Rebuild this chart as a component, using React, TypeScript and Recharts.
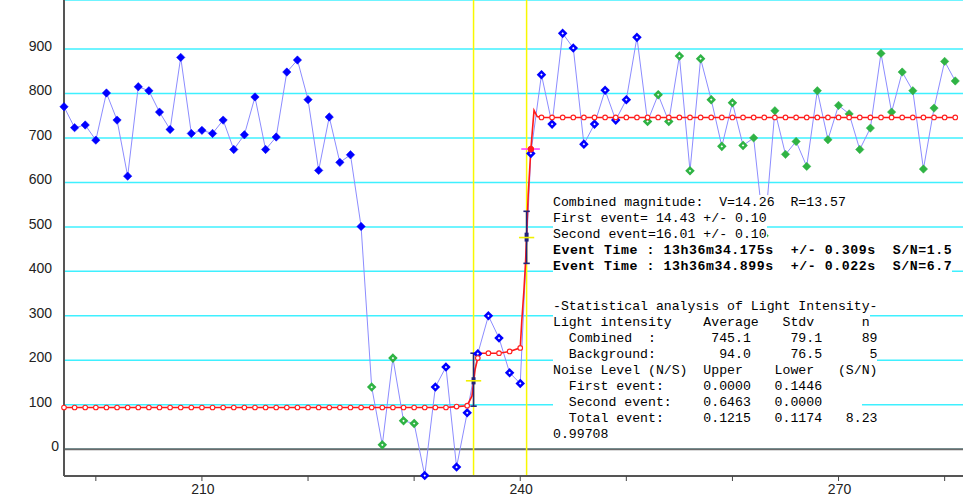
import { LineChart, Line, XAxis, YAxis, CartesianGrid, ReferenceLine, ReferenceDot } from "recharts";

// measured light intensity, one sample per time unit
const times = [
  197, 198, 199, 200, 201, 202, 203, 204, 205, 206, 207, 208, 209, 210, 211, 212, 213, 214, 215, 216,
  217, 218, 219, 220, 221, 222, 223, 224, 225, 226, 227, 228, 229, 230, 231, 232, 233, 234, 235, 236,
  237, 238, 239, 240, 241, 242, 243, 244, 245, 246, 247, 248, 249, 250, 251, 252, 253, 254, 255, 256,
  257, 258, 259, 260, 261, 262, 263, 264, 265, 266, 267, 268, 269, 270, 271, 272, 273, 274, 275, 276,
  277, 278, 279, 280, 281,
];
const intensity = [
  770, 723, 729, 695, 801, 740, 614, 815, 806, 758, 719, 881, 710, 717, 710, 740, 674, 707, 792, 674,
  702, 848, 875, 786, 627, 747, 645, 662, 501, 140, 10, 205, 64, 58, -59, 140, 185, -40, 82, 215,
  300, 250, 172, 148, 665, 842, 731, 935, 902, 686, 731, 807, 740, 786, 926, 737, 797, 737, 884, 626,
  878, 786, 681, 779, 683, 700, 480, 761, 663, 692, 636, 806, 696, 773, 754, 674, 722, 890, 758, 848,
  806, 630, 767, 872, 828,
];
// F = blue filled, o = blue open, g = green open, G = green filled
const kinds = [
  "F", "F", "F", "F", "F", "F", "F", "F", "F", "F", "F", "F", "F", "F", "F", "F", "F", "F", "F", "F",
  "F", "F", "F", "F", "F", "F", "F", "F", "F", "g", "g", "g", "g", "g", "o", "o", "o", "o", "o", "o",
  "o", "o", "o", "o", "o", "o", "o", "o", "o", "o", "o", "o", "o", "o", "o", "g", "g", "g", "g", "g",
  "g", "g", "g", "g", "g", "G", "G", "G", "G", "G", "G", "G", "G", "G", "G", "G", "G", "G", "G", "G",
  "G", "G", "G", "G", "G",
];

// fitted step model (red)
const fitTimes = [
  197, 198, 199, 200, 201, 202, 203, 204, 205, 206, 207, 208, 209, 210, 211, 212, 213, 214, 215, 216,
  217, 218, 219, 220, 221, 222, 223, 224, 225, 226, 227, 228, 229, 230, 231, 232, 233, 234, 235,
  235.45, 235.6, 235.75, 236, 236.15, 237, 238, 239, 240, 240.15, 240.35, 240.5, 240.75, 241, 241.3, 241.6,
  242, 243, 244, 245, 246, 247, 248, 249, 250, 251, 252, 253, 254, 255, 256, 257, 258, 259, 260, 261,
  262, 263, 264, 265, 266, 267, 268, 269, 270, 271, 272, 273, 274, 275, 276, 277, 278, 279, 280, 281,
];
const fitValues = [
  94, 94, 94, 94, 94, 94, 94, 94, 94, 94, 94, 94, 94, 94, 94, 94, 94, 94, 94, 94,
  94, 94, 94, 94, 94, 94, 94, 94, 94, 94, 94, 94, 94, 94, 94, 94, 94, 96, 98,
  120, 150, 180, 205, 216, 216, 216, 220, 228, 290, 358, 420, 572, 674, 762, 748,
  746, 746, 746, 746, 746, 746, 746, 746, 746, 746, 746, 746, 746, 746, 746, 746, 746, 746, 746, 746,
  746, 746, 746, 746, 746, 746, 746, 746, 746, 746, 746, 746, 746, 746, 746, 746, 746, 746, 746, 746,
];

// event times with their uncertainty bars
const eventTimes = [235.6, 240.6];
const eventLow = [97, 418];
const eventHigh = [216, 535];
const eventCoreLow = [146, 467];
const eventCoreHigh = [162, 487];
const eventMid = [154, 476];
const magnitudeMark = { t: 241, v: 675, from: 240.1, to: 241.85 };

const xTicks = [200, 210, 220, 230, 240, 250, 260, 270, 280];
const xLabels = [210, 240, 270];
const yTicks = [0, 100, 200, 300, 400, 500, 600, 700, 800, 900];

const textLines = [
  "Combined magnitude:  V=14.26  R=13.57",
  "First event= 14.43 +/- 0.10",
  "Second event=16.01 +/- 0.10",
];
const eventLines = [
  "Event Time : 13h36m34.175s  +/- 0.309s  S/N=1.5",
  "Event Time : 13h36m34.899s  +/- 0.022s  S/N=6.7",
];
const statLines = [
  "-Statistical analysis of Light Intensity-",
  "Light intensity    Average   Stdv      n",
  "  Combined  :       745.1     79.1     89",
  "  Background:        94.0     76.5      5",
  "Noise Level (N/S)  Upper    Lower   (S/N)",
  "  First event:     0.0000   0.1446",
  "  Second event:    0.6463   0.0000     ",
  "  Total event:     0.1215   0.1174   8.23",
  "0.99708",
];

const measured = times.map((t, i) => ({ t, v: intensity[i], k: kinds[i] }));
const fit = fitTimes.map((t, i) => ({ t, v: fitValues[i] }));

const BLUE = "#0000ff";
const GREEN = "#2fb344";
const MONO = '"Liberation Mono", "DejaVu Sans Mono", monospace';

function MeasuredDot(props: any) {
  const { cx, cy, index, payload } = props;
  if (cx == null || cy == null) return <g key={index} />;
  const k = payload.k;
  const color = k === "g" || k === "G" ? GREEN : BLUE;
  const filled = k === "F" || k === "G";
  const s = filled ? 4.2 : 3;
  const pts = `${cx},${cy - s} ${cx + s},${cy} ${cx},${cy + s} ${cx - s},${cy}`;
  return (
    <polygon
      key={index}
      points={pts}
      fill={filled ? color : "#fff"}
      stroke={color}
      strokeWidth={filled ? 0.5 : 2.5}
    />
  );
}

function FitDot(props: any) {
  const { cx, cy, index, payload } = props;
  if (cx == null || !Number.isInteger(payload.t)) return <g key={index} />;
  return <circle key={index} cx={cx} cy={cy} r={2.3} fill="#fff" stroke="#ff2020" strokeWidth={1.1} />;
}

function XTick(props: any) {
  const { x, y, payload } = props;
  if (!xLabels.includes(payload.value)) return <g />;
  return (
    <text x={x + 1} y={y + 11} textAnchor="middle" fontSize={14} fill="#222" fontFamily='"Liberation Sans", Arial, sans-serif'>
      {payload.value}
    </text>
  );
}

function YTick(props: any) {
  const { x, y, payload } = props;
  const shift = payload.value === 0 ? 3 : -4;
  return (
    <text x={x + shift} y={y + 2} textAnchor="end" fontSize={14} fill="#222" fontFamily='"Liberation Sans", Arial, sans-serif'>
      {payload.value}
    </text>
  );
}

const lineBox: React.CSSProperties = {
  display: "inline-block",
  height: 16,
  lineHeight: "16px",
  background: "#fff",
  whiteSpace: "pre",
  verticalAlign: "top",
};

export default function App() {
  return (
    <div style={{ position: "absolute", left: 0, top: 0, width: 963, height: 499, background: "#fff", overflow: "hidden" }}>
      <LineChart width={963} height={499} margin={{ top: 0, right: 0, bottom: 0, left: 0 }}>
        <CartesianGrid vertical={false} stroke="#3ff0ff" strokeWidth={1.5} />
        <XAxis
          type="number"
          dataKey="t"
          domain={[197, 281.73]}
          ticks={xTicks}
          interval={0}
          height={23}
          tickSize={5}
          tick={XTick}
          axisLine={{ stroke: "#555", strokeWidth: 2 }}
          tickLine={{ stroke: "#444" }}
        />
        <YAxis
          type="number"
          domain={[-60, 1010]}
          ticks={yTicks}
          interval={0}
          width={64}
          tick={YTick}
          tickLine={false}
          axisLine={{ stroke: "#555", strokeWidth: 2 }}
        />
        <ReferenceLine y={0} stroke="#6a6a6a" strokeWidth={2} />
        {eventTimes.map((t) => (
          <ReferenceLine key={`ev${t}`} x={t} stroke="#f8f800" strokeWidth={1.5} />
        ))}
        <Line
          data={measured}
          dataKey="v"
          type="linear"
          stroke="#8c8cff"
          strokeWidth={1}
          dot={MeasuredDot}
          activeDot={false}
          isAnimationActive={false}
        />
        <Line
          data={fit}
          dataKey="v"
          type="linear"
          stroke="#ff1a1a"
          strokeWidth={1.6}
          dot={FitDot}
          activeDot={false}
          isAnimationActive={false}
        />
        {eventTimes.map((t, i) => (
          <ReferenceLine
            key={`eb${t}`}
            segment={[{ x: t, y: eventLow[i] }, { x: t, y: eventHigh[i] }]}
            stroke="#22227a"
            strokeWidth={1.6}
          />
        ))}
        {eventTimes.map((t, i) => (
          <ReferenceLine
            key={`ec${t}`}
            segment={[{ x: t, y: eventCoreLow[i] }, { x: t, y: eventCoreHigh[i] }]}
            stroke="#22227a"
            strokeWidth={4}
          />
        ))}
        {eventTimes.map((t, i) => (
          <ReferenceLine
            key={`eh${t}`}
            segment={[{ x: t - 0.3, y: eventHigh[i] }, { x: t + 0.3, y: eventHigh[i] }]}
            stroke="#22227a"
            strokeWidth={1.6}
          />
        ))}
        {eventTimes.map((t, i) => (
          <ReferenceLine
            key={`el${t}`}
            segment={[{ x: t - 0.3, y: eventLow[i] }, { x: t + 0.3, y: eventLow[i] }]}
            stroke="#22227a"
            strokeWidth={1.6}
          />
        ))}
        {eventTimes.map((t, i) => (
          <ReferenceLine
            key={`ey${t}`}
            segment={[{ x: t - 0.72, y: eventMid[i] }, { x: t + 0.72, y: eventMid[i] }]}
            stroke="#f0f000"
            strokeWidth={1.6}
          />
        ))}
        <ReferenceLine
          segment={[{ x: magnitudeMark.from, y: magnitudeMark.v }, { x: magnitudeMark.to, y: magnitudeMark.v }]}
          stroke="#ff40ff"
          strokeWidth={1.6}
        />
        <ReferenceDot x={magnitudeMark.t} y={magnitudeMark.v} r={2.8} fill="#ff1a1a" stroke="#ff1a1a" />
      </LineChart>

      <div style={{ position: "absolute", left: 553, top: 195, fontFamily: MONO, fontSize: 13.2, color: "#000" }}>
        {textLines.map((s) => (
          <div key={s} style={{ height: 16 }}>
            <span style={lineBox}>{s}</span>
          </div>
        ))}
        {eventLines.map((s) => (
          <div key={s} style={{ height: 16 }}>
            <span style={{ ...lineBox, fontWeight: "bold", letterSpacing: 0.58 }}>{s}</span>
          </div>
        ))}
      </div>
      <div style={{ position: "absolute", left: 553, top: 298.7, fontFamily: MONO, fontSize: 13.2, color: "#000" }}>
        {statLines.map((s) => (
          <div key={s} style={{ height: 16 }}>
            <span style={lineBox}>{s}</span>
          </div>
        ))}
      </div>
    </div>
  );
}
